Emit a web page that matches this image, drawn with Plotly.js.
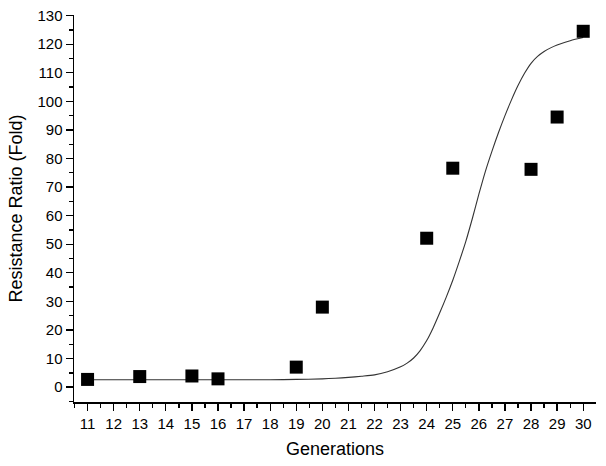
<!DOCTYPE html>
<html>
<head>
<meta charset="utf-8">
<script src="https://cdn.plot.ly/plotly-3.0.1.min.js"></script>
<style>html,body{margin:0;padding:0;background:#fff;}#chart{width:606px;height:466px;}</style>
</head>
<body>
<div id="chart"></div>
<script>
// Observed resistance ratios
var generations = [11, 13, 15, 16, 19, 20, 24, 25, 28, 29, 30];
var resistanceRatio = [2.7, 3.7, 3.9, 2.9, 7.0, 28.0, 52.1, 76.6, 76.2, 94.5, 124.5];

// Fitted curve
var fitX = [11, 13, 15, 17, 18, 19, 20, 20.5, 21, 21.5, 22, 22.5, 23, 23.25, 23.5, 23.75, 24, 24.25, 24.5, 24.75, 25, 25.25, 25.5, 25.75, 26, 26.25, 26.5, 26.75, 27, 27.25, 27.5, 27.75, 28, 28.25, 28.5, 28.75, 29, 29.5, 30];
var fitY = [2.6, 2.6, 2.6, 2.6, 2.6, 2.7, 2.9, 3.1, 3.4, 3.8, 4.3, 5.4, 7.1, 8.4, 10.2, 12.8, 16.3, 20.8, 26, 31.5, 37.4, 44, 51, 59, 67.5, 75.5, 82.5, 89, 95, 100.5, 105.5, 109.8, 113.3, 115.7, 117.4, 118.7, 119.7, 121.2, 122.3];

var xTickVals = [];
for (var g = 11; g <= 30; g++) xTickVals.push(g);

var traces = [
  {
    x: fitX, y: fitY, type: 'scatter', mode: 'lines',
    line: {color: '#333333', width: 1.1, shape: 'spline', smoothing: 0.8},
    hoverinfo: 'skip', showlegend: false
  },
  {
    x: generations, y: resistanceRatio, type: 'scatter', mode: 'markers',
    marker: {symbol: 'square', size: 13, color: '#000000'},
    showlegend: false
  }
];

var layout = {
  width: 606, height: 466,
  margin: {l: 74, r: 10, t: 15, b: 64},
  paper_bgcolor: '#ffffff', plot_bgcolor: '#ffffff',
  font: {family: 'Liberation Sans, Arial, sans-serif', color: '#000000'},
  showlegend: false,
  xaxis: {
    range: [10.48, 30.49],
    tickmode: 'array', tickvals: xTickVals,
    ticks: 'outside', ticklen: 7, tickwidth: 1.3, tickcolor: '#000',
    minor: {dtick: 0.5, tick0: 10.5, ticks: 'outside', ticklen: 4, tickwidth: 1.3, tickcolor: '#000', showgrid: false},
    showline: true, linecolor: '#000', linewidth: 1.5,
    showgrid: false, zeroline: false,
    tickfont: {size: 15, color: '#000'},
    title: {text: 'Generations', font: {size: 18, color: '#000'}, standoff: 12}
  },
  yaxis: {
    range: [-5.2, 130.2],
    tick0: 0, dtick: 10,
    ticks: 'outside', ticklen: 7, tickwidth: 1.3, tickcolor: '#000',
    minor: {dtick: 5, tick0: 0, ticks: 'outside', ticklen: 4, tickwidth: 1.3, tickcolor: '#000', showgrid: false},
    showline: true, linecolor: '#000', linewidth: 1.5,
    showgrid: false, zeroline: false,
    tickfont: {size: 15, color: '#000'},
    title: {text: 'Resistance Ratio (Fold)', font: {size: 18, color: '#000'}, standoff: 10}
  }
};

Plotly.newPlot('chart', traces, layout, {displayModeBar: false, staticPlot: true});
</script>
</body>
</html>
